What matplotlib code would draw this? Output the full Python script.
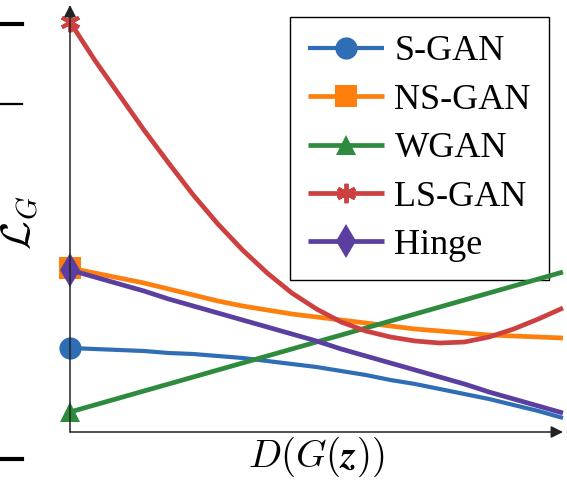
import matplotlib
matplotlib.use("Agg")
import matplotlib.pyplot as plt
from matplotlib.lines import Line2D

# D(G(z)) sample points
d_values = [0.00, 0.05, 0.10, 0.15, 0.20, 0.25, 0.30, 0.35, 0.40, 0.45, 0.50,
            0.55, 0.60, 0.65, 0.70, 0.75, 0.80, 0.85, 0.90, 0.95, 1.00]

# generator losses (arbitrary units)
s_gan = [0.84, 0.83, 0.82, 0.81, 0.79, 0.78, 0.76, 0.74, 0.71, 0.68, 0.65,
         0.61, 0.57, 0.52, 0.48, 0.43, 0.38, 0.33, 0.27, 0.21, 0.14]
ns_gan = [1.64, 1.59, 1.54, 1.49, 1.43, 1.37, 1.31, 1.26, 1.22, 1.18, 1.15,
          1.12, 1.09, 1.06, 1.03, 1.01, 0.99, 0.97, 0.96, 0.95, 0.94]
wgan = [0.20, 0.27, 0.34, 0.41, 0.48, 0.55, 0.62, 0.69, 0.76, 0.83, 0.90,
        0.97, 1.04, 1.11, 1.18, 1.25, 1.32, 1.39, 1.46, 1.53, 1.60]
ls_gan = [4.10, 3.72, 3.37, 3.02, 2.69, 2.37, 2.08, 1.82, 1.59, 1.39, 1.23,
          1.10, 1.01, 0.95, 0.91, 0.89, 0.90, 0.95, 1.03, 1.13, 1.24]
hinge = [1.62, 1.55, 1.48, 1.41, 1.33, 1.26, 1.19, 1.12, 1.05, 0.98, 0.91,
         0.83, 0.76, 0.69, 0.62, 0.55, 0.48, 0.40, 0.33, 0.26, 0.19]

series = [
    ("S-GAN", s_gan, "#2f6db4", "o", 16, 3.0),
    ("NS-GAN", ns_gan, "#ff7f0e", "s", 16, 3.4),
    ("WGAN", wgan, "#2e8b3e", "^", 15, 3.4),
    ("LS-GAN", ls_gan, "#cc4040", (6, 2, 0), 14, 3.4),
    ("Hinge", hinge, "#5b3fa0", "d", 17, 3.4),
]

plt.rcParams["mathtext.fontset"] = "cm"

fig = plt.figure(figsize=(5.67, 4.84), dpi=100)
ax = fig.add_axes([70 / 567, 52 / 484, 493 / 567, 427 / 484])

for name, vals, color, marker, ms, lw in series:
    ax.plot(d_values, vals, color=color, lw=lw, label=name, marker=marker,
            markevery=[0], markersize=ms, markeredgewidth=2.8 if name == "LS-GAN" else 0,
            markeredgecolor=color, clip_on=False, solid_capstyle="butt",
            solid_joinstyle="round")

ax.set_xlim(0, 1)
ax.set_ylim(0, 4.27)
for s in ax.spines.values():
    s.set_visible(False)
ax.set_xticks([])
ax.set_yticks([])
ax.patch.set_alpha(0)

# axes with arrow heads
arrow = dict(arrowstyle="-|>", color="#222222", lw=1.1, mutation_scale=18,
             shrinkA=0, shrinkB=0)
ax.annotate("", xy=(1.0, 0), xytext=(0, 0), xycoords="axes fraction", arrowprops=arrow)
ax.annotate("", xy=(0, 1.0), xytext=(0, 0), xycoords="axes fraction", arrowprops=arrow)

ax.set_xlabel(r"$D(G(\boldsymbol{z}))$", fontsize=28, labelpad=2)
ax.set_ylabel(r"$\mathcal{L}_G$", fontsize=30, labelpad=0)
ax.yaxis.set_label_coords(-0.058, 0.49)

leg = ax.legend(loc="upper right", bbox_to_anchor=(549 / 567, 1 - 17 / 484),
                bbox_transform=fig.transFigure,
                prop={"family": "Liberation Serif", "size": 26},
                frameon=True, fancybox=False, edgecolor="black", framealpha=1,
                handlelength=2.1, handletextpad=0.3, labelspacing=0.42,
                borderpad=0.5, borderaxespad=0)
leg.get_frame().set_linewidth(1.0)
leg.set_zorder(1)

# cropped tick marks on the left edge
for y, w in [(24, 3.0), (104, 1.6), (459, 3.0)]:
    fig.add_artist(Line2D([0, 22 / 567], [1 - y / 484, 1 - y / 484],
                          color="black", lw=w, transform=fig.transFigure))

fig.savefig("out.png", dpi=100)
